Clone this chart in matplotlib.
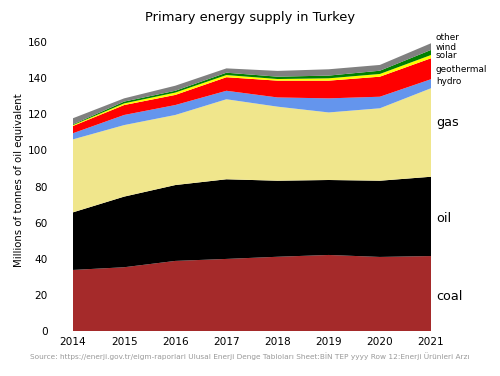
import matplotlib
matplotlib.use("Agg")
import matplotlib.pyplot as plt

# -------------------------
# DATA (Mtoe)
# -------------------------
years = [2014, 2015, 2016, 2017, 2018, 2019, 2020, 2021]
coal = [33.8, 35.3, 38.8, 39.9, 41.1, 42.1, 41.0, 41.5]
oil = [31.9, 39.1, 42.0, 44.1, 42.1, 41.5, 42.2, 43.9]
gas = [40.4, 39.6, 38.8, 44.3, 41.0, 37.4, 40.1, 49.0]
hydro = [3.4, 5.6, 5.5, 4.7, 5.1, 7.8, 6.4, 5.0]
geothermal = [4.0, 5.5, 5.6, 7.5, 9.3, 9.8, 11.1, 11.6]
solar = [0.5, 0.9, 1.3, 1.2, 0.9, 1.3, 1.5, 1.8]
wind = [0.4, 1.0, 1.0, 1.3, 1.3, 1.5, 1.8, 2.8]
other = [3.4, 1.8, 2.8, 2.4, 3.2, 3.5, 3.2, 3.7]

series = [coal, oil, gas, hydro, geothermal, solar, wind, other]
colors = ["#a52a2a", "#000000", "#f0e68c", "#6495ed", "#ff0000",
          "#ffff00", "#008000", "#808080"]

# -------------------------
# FIGURE
# -------------------------
fig = plt.figure(figsize=(5.0, 3.76), dpi=100)
ax = fig.add_axes([73 / 500, 1 - 331 / 376, (431 - 73) / 500, (331 - 30) / 376])

ax.stackplot(years, *series, colors=colors, linewidth=0)

ax.set_xlim(2014, 2021)
ax.set_ylim(0, 160 * (331 - 30) / (331 - 42))
ax.set_yticks(range(0, 161, 20))
ax.set_xticks(years)
for s in ax.spines.values():
    s.set_visible(False)
ax.tick_params(axis="both", length=0, labelsize=7.6)
ax.tick_params(axis="y", pad=18)
ax.tick_params(axis="x", pad=4)

ax.set_ylabel("Millions of tonnes of oil equivalent", fontsize=7.3, labelpad=3)
fig.text(0.5, 1 - 17 / 376, "Primary energy supply in Turkey",
         ha="center", va="center", fontsize=9.4)

# labels at the right edge
small = [("other", 38), ("wind", 47), ("solar", 56), ("geothermal", 69), ("hydro", 82)]
for name, yp in small:
    fig.text(436 / 500, 1 - yp / 376, name, ha="left", va="center", fontsize=6.4)
big = [("gas", 122), ("oil", 218), ("coal", 296)]
for name, yp in big:
    fig.text(436 / 500, 1 - yp / 376, name, ha="left", va="center", fontsize=9.2)

fig.text(0.5, 1 - 356 / 376,
         "Source: https://enerji.gov.tr/eigm-raporlari Ulusal Enerji Denge Tabloları "
         "Sheet:BİN TEP yyyy Row 12:Enerji Ürünleri Arzı",
         ha="center", va="center", fontsize=5.35, color="#999999")

fig.savefig("out.png", dpi=100)
